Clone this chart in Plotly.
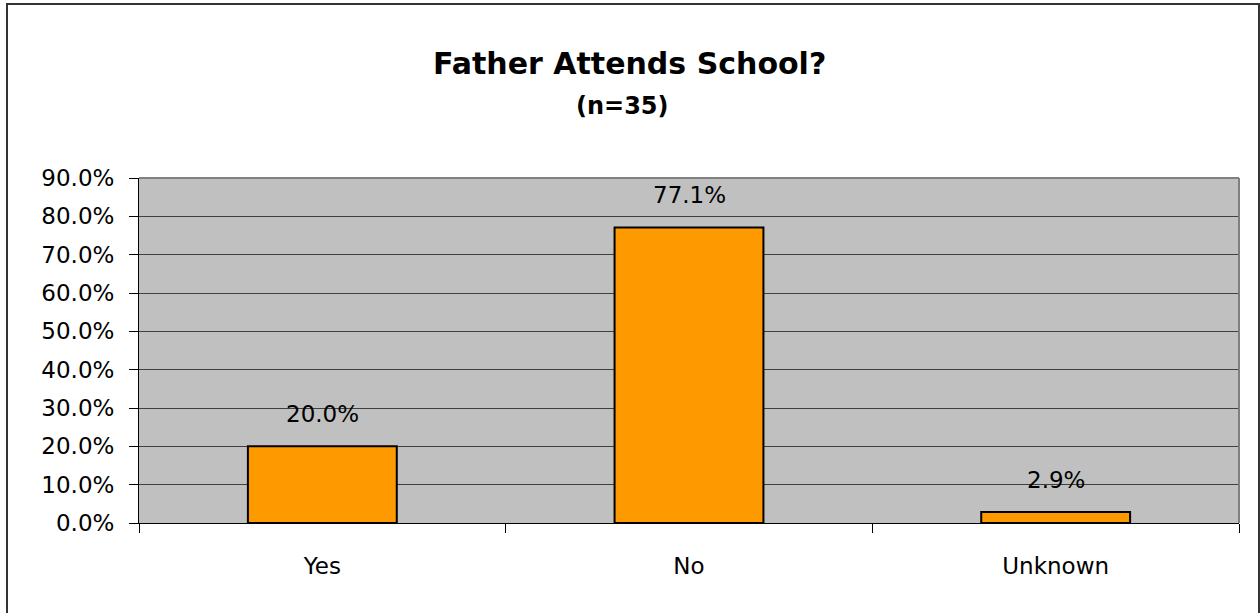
import plotly.graph_objects as go

categories = ["Yes", "No", "Unknown"]
values = [0.200, 0.771, 0.029]
labels = ["20.0%", "77.1%", "2.9%"]

FONT = "DejaVu Sans, Liberation Sans, Arial, sans-serif"
L, R, T, B = 139, 21, 178, 90
W, H = 1260, 613
pw, ph = W - L - R, H - T - B

def px(x):
    return (x - L) / pw

def py(y):
    return (H - B - y) / ph

fig = go.Figure()
fig.add_trace(go.Bar(
    x=categories, y=values, width=0.406,
    marker=dict(color="#FF9900", line=dict(color="#000000", width=2)),
    hoverinfo="skip",
))

for c, v, t in zip(categories, values, labels):
    fig.add_annotation(x=c, y=v, text=t, showarrow=False, yanchor="middle",
                       yshift=32, font=dict(size=23, color="#000000", family=FONT))

fig.add_annotation(xref="paper", yref="paper", x=px(629), y=py(63), text="<b>Father Attends School?</b>",
                   showarrow=False, xanchor="center", yanchor="middle",
                   font=dict(size=30, color="#000000", family=FONT))
fig.add_annotation(xref="paper", yref="paper", x=px(622), y=py(106), text="<b>(n=35)</b>",
                   showarrow=False, xanchor="center", yanchor="middle",
                   font=dict(size=24, color="#000000", family=FONT))

# outer chart border
fig.add_shape(type="rect", xref="paper", yref="paper", x0=px(7), x1=px(1259), y0=py(625), y1=py(4),
              line=dict(color="#333333", width=2), fillcolor="rgba(0,0,0,0)", layer="above")
# plot area top/right gray border
fig.add_shape(type="line", xref="paper", yref="paper", x0=0, x1=1, y0=1, y1=1,
              line=dict(color="#808080", width=2))
fig.add_shape(type="line", xref="paper", yref="paper", x0=1, x1=1, y0=0, y1=1,
              line=dict(color="#808080", width=2))

fig.update_layout(
    width=W, height=H,
    margin=dict(l=L, r=R, t=T, b=B),
    paper_bgcolor="#FFFFFF", plot_bgcolor="#C0C0C0",
    showlegend=False,
    font=dict(family=FONT, color="#000000"),
    xaxis=dict(
        tickson="boundaries", ticks="outside", ticklen=9, tickcolor="#000000", tickwidth=1,
        showline=True, linecolor="#000000", linewidth=1, showgrid=False,
        ticklabelstandoff=22,
        tickfont=dict(size=23, color="#000000", family=FONT), fixedrange=True,
    ),
    yaxis=dict(
        range=[0, 0.9], dtick=0.1, tickformat=".1%",
        ticks="outside", ticklen=9, tickcolor="#000000", tickwidth=1,
        showline=True, linecolor="#000000", linewidth=1,
        showgrid=True, gridcolor="#404040", gridwidth=1, zeroline=False,
        ticklabelstandoff=10,
        tickfont=dict(size=23, color="#000000", family=FONT), fixedrange=True,
    ),
)

fig.write_html(
    "out.html",
    config={"displayModeBar": False},
    post_script="document.body.style.margin='0';document.body.style.overflow='hidden';",
)
